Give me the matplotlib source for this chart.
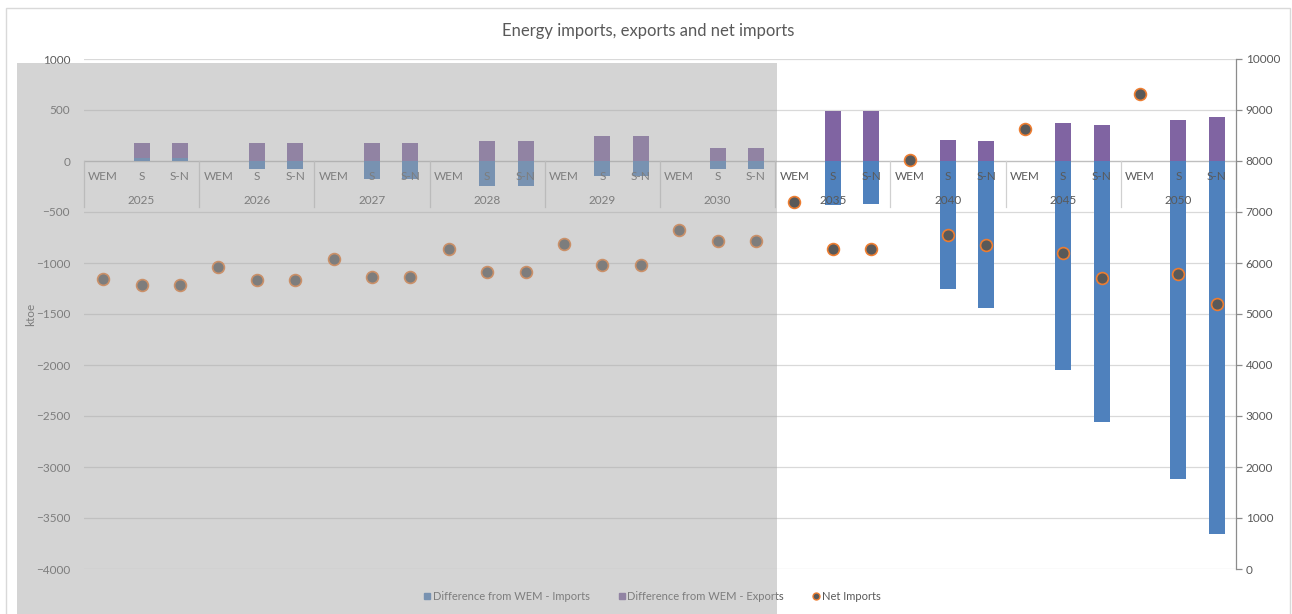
import matplotlib
matplotlib.use("Agg")
import matplotlib.pyplot as plt
from matplotlib.patches import Rectangle
from matplotlib.lines import Line2D
import numpy as np

plt.rcParams['font.family'] = ['Lato', 'DejaVu Sans']

years = ['2025', '2026', '2027', '2028', '2029', '2030', '2035', '2040', '2045', '2050']
scenarios = ['WEM', 'S', 'S-N']

# Difference from WEM (ktoe), order per year: WEM, S, S-N
imports_diff = [0, 25, 25,
                0, -80, -80,
                0, -175, -175,
                0, -245, -245,
                0, -145, -145,
                0, -80, -80,
                0, -430, -420,
                0, -1250, -1440,
                0, -2050, -2560,
                0, -3120, -3660]
exports_diff = [0, 150, 150,
                0, 175, 175,
                0, 180, 180,
                0, 200, 200,
                0, 250, 250,
                0, 125, 125,
                0, 490, 490,
                0, 205, 200,
                0, 375, 350,
                0, 400, 435]
net_imports = [5690, 5570, 5570,
               5915, 5660, 5660,
               6085, 5725, 5725,
               6275, 5830, 5830,
               6380, 5965, 5965,
               6640, 6440, 6440,
               7190, 6270, 6270,
               8010, 6550, 6360,
               8630, 6200, 5700,
               9315, 5780, 5200]

W, H = 1292, 614
fig = plt.figure(figsize=(W / 100, H / 100), dpi=100)
ax = fig.add_axes([84 / W, 1 - 569 / H, (1236 - 84) / W, (569 - 59) / H])

txt = '#595959'
grid = '#d9d9d9'
c_imp = '#4f81bd'
c_exp = '#8064a2'

n = len(imports_diff)
x = np.arange(n)
imp = np.array(imports_diff, dtype=float)
exp = np.array(exports_diff, dtype=float)
bw = 0.42
ax.bar(x, imp, width=bw, color=c_imp, zorder=3)
ax.bar(x, exp, width=bw, bottom=np.clip(imp, 0, None), color=c_exp, zorder=3)

ax.set_xlim(-0.5, n - 0.5)
ax.set_ylim(-4000, 1000)
ax.set_yticks(np.arange(-4000, 1001, 500))
ax.yaxis.grid(True, color=grid, lw=0.9, zorder=0)
ax.set_axisbelow(True)
ax.set_xticks([])
for s in ax.spines.values():
    s.set_visible(False)
ax.tick_params(axis='y', length=0, labelsize=8.5, labelcolor=txt, pad=10)
ax.set_ylabel('ktoe', color=txt, fontsize=8.5, labelpad=0)

# category axis line at zero, two-level labels and group separators
ax.axhline(0, color='#bfbfbf', lw=0.9, zorder=2)
for i in range(n):
    ax.text(x[i], -150, scenarios[i % 3], ha='center', va='center',
            fontsize=8.5, color=txt, zorder=4)
for k, yr in enumerate(years):
    ax.text(3 * k + 1, -385, yr, ha='center', va='center',
            fontsize=8.5, color=txt, zorder=4)
for k in range(len(years) + 1):
    ax.plot([3 * k - 0.5, 3 * k - 0.5], [0, -455], color='#d0d0d0', lw=0.9,
            zorder=2, clip_on=False)

ax2 = ax.twinx()
ax2.set_ylim(0, 10000)
ax2.set_yticks(np.arange(0, 10001, 1000))
for s in ['left', 'top', 'bottom']:
    ax2.spines[s].set_visible(False)
ax2.spines['right'].set_color('#8c8c8c')
ax2.spines['right'].set_linewidth(0.9)
ax2.tick_params(axis='y', length=4, width=0.9, color='#8c8c8c',
                labelsize=8.5, labelcolor=txt, pad=3)
ax2.plot(x, net_imports, linestyle='none', marker='o', markersize=8.5,
         markerfacecolor='#595959', markeredgecolor='#ed7d31',
         markeredgewidth=1.2, zorder=5)

fig.text(648 / W, 1 - 31 / H, 'Energy imports, exports and net imports',
         ha='center', va='center', fontsize=12, color=txt)

handles = [Line2D([], [], marker='s', linestyle='none', markersize=5,
                  markerfacecolor=c_imp, markeredgecolor=c_imp),
           Line2D([], [], marker='s', linestyle='none', markersize=5,
                  markerfacecolor=c_exp, markeredgecolor=c_exp),
           Line2D([], [], marker='o', linestyle='none', markersize=5,
                  markerfacecolor='#595959', markeredgecolor='#ed7d31',
                  markeredgewidth=1)]
labels = ['Difference from WEM - Imports', 'Difference from WEM - Exports',
          'Net Imports']
leg = fig.legend(handles, labels, loc='center', ncol=3, frameon=False,
                 bbox_to_anchor=(652 / W, 1 - 596 / H), fontsize=8,
                 handlelength=0.6, handletextpad=0.2, columnspacing=2.6)
for t in leg.get_texts():
    t.set_color(txt)

# chart frame
fig.patches.append(Rectangle((6 / W, -0.01), (1290 - 6) / W, 1.01 - 8 / H,
                             transform=fig.transFigure, fill=False,
                             edgecolor='#d9d9d9', lw=1, zorder=1))

# shaded band over the earlier years
fig.patches.append(Rectangle((17 / W, 0), (777 - 17) / W, 1 - 63 / H,
                             transform=fig.transFigure, facecolor='#a5a5a5',
                             edgecolor='none', alpha=0.48, zorder=20))

fig.savefig('out.png', dpi=100)
